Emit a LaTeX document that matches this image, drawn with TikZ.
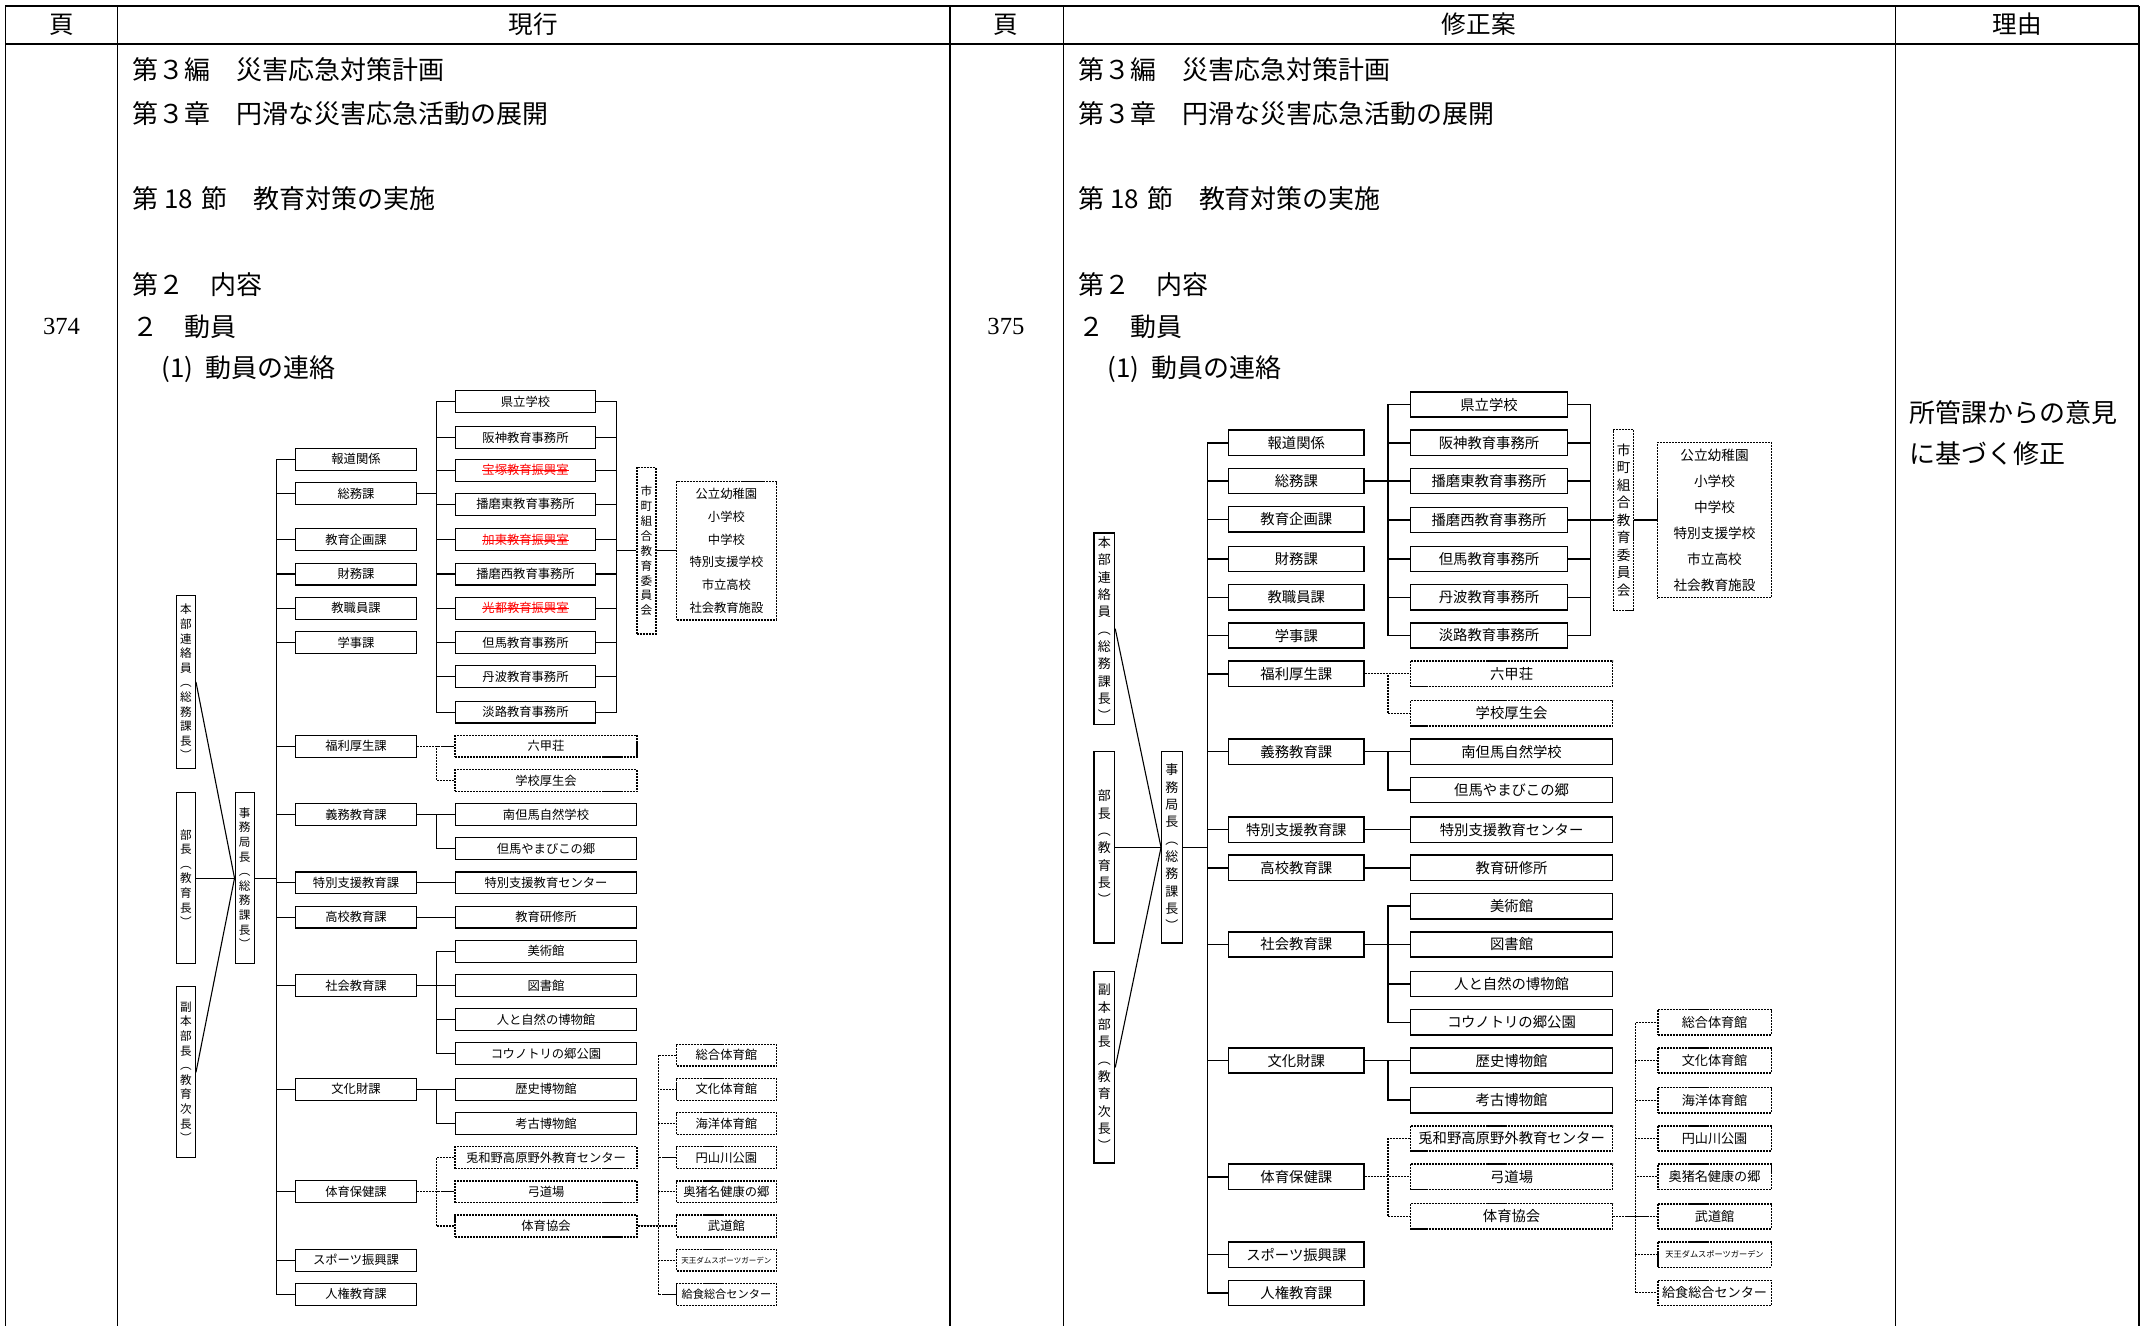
\documentclass[tikz,border=0pt]{standalone}
\usepackage{fontspec}
\setmainfont{Noto Sans CJK JP}
\newfontfamily\numfont{Liberation Serif}
\usepackage{tikz}
\usetikzlibrary{positioning}

\newcommand{\redout}[1]{{\color{red}\sbox0{#1}\rlap{\rule[.32em]{\wd0}{.5pt}}\usebox0}}

\begin{document}
\begin{tikzpicture}[x=1pt,y=-1pt,
  every node/.style={inner sep=0pt},
  dashline/.style={dash pattern=on 1.5pt off .7pt},
  head/.style={anchor=west,font=\fontsize{19}{19}\selectfont},
  title/.style={font=\fontsize{18}{18}\selectfont},
  obox/.style={draw,line width=.8pt,minimum height=16pt,font=\fontsize{9}{9}\selectfont},
  odept/.style={obox,minimum width=89pt},
  otop/.style={obox,minimum width=103pt},
  osub/.style={obox,minimum width=133pt},
  oside/.style={obox,minimum width=73pt},
  overt/.style={draw,line width=.8pt,minimum width=14pt,align=center,font=\fontsize{8.5}{10.7}\selectfont},
  oline/.style={line width=.8pt},
  nbox/.style={draw,line width=1.1pt,minimum height=18.5pt,font=\fontsize{10.5}{10.5}\selectfont},
  ndept/.style={nbox,minimum width=99pt},
  ntop/.style={nbox,minimum width=115pt},
  nsub/.style={nbox,minimum width=148pt},
  nside/.style={nbox,minimum width=83pt,font=\fontsize{9.6}{9.6}\selectfont},
  nvert/.style={draw,line width=1pt,minimum width=15pt,align=center,font=\fontsize{9.5}{12.7}\selectfont},
  nline/.style={line width=1.1pt}]

\useasboundingbox (0,0) rectangle (1568,970);

% table
\draw[line width=1pt] (4,4.5) -- (1565,4.5);
\draw[line width=1.6pt] (4,32) -- (1565,32);
\foreach \x in {4,86,695,778,1387,1565}
  \draw[line width=1pt] (\x,4.5) -- (\x,970);

\node[title] (PageL)   at (45,18)   {頁};
\node[title] (Old)     at (390,18)  {現行};
\node[title] (PageR)   at (736,18)  {頁};
\node[title] (New)     at (1082,18) {修正案};
\node[title] (Reason)  at (1476,18) {理由};
\node[font=\numfont\fontsize{18}{18}\selectfont] (NumL) at (45,239)  {374};
\node[font=\numfont\fontsize{18}{18}\selectfont] (NumR) at (736,239) {375};

\foreach \p/\x in {O/97,N/789} {
  \node[head] (\p Hen)   at (\x,51)  {第３編　災害応急対策計画};
  \node[head] (\p Sho)   at (\x,83)  {第３章　円滑な災害応急活動の展開};
  \node[head] (\p Setsu) at (\x,145) {第\hspace{4pt}18\hspace{6pt}節　教育対策の実施};
  \node[head] (\p Dai)   at (\x,208) {第２　内容};
  \node[head] (\p Doin)  at (\x,239) {２　動員};
  \node[head] (\p Renr)  at (\x+21,270) {(1)\hspace{9pt}動員の連絡};
}
\node[head] (ReasonA) at (1397,302) {所管課からの意見};
\node[head] (ReasonB) at (1397,332) {に基づく修正};

% ---------------- 現行 ----------------
\node[overt,minimum height=126pt] (OHonbu) at (136,499)   {本\\部\\連\\絡\\員\\︵\\総\\務\\課\\長\\︶};
\node[overt,minimum height=125pt] (OBucho) at (136,642.5) {部\\長\\︵\\教\\育\\長\\︶};
\node[overt,minimum height=125pt] (OFuku)  at (136,784.5) {副\\本\\部\\長\\︵\\教\\育\\次\\長\\︶};
\node[overt,minimum height=125pt] (OJimu)  at (179,642.5) {事\\務\\局\\長\\︵\\総\\務\\課\\長\\︶};
\draw[oline] (OHonbu.east) -- (OJimu.west);
\draw[oline] (OBucho.east) -- (OJimu.west);
\draw[oline] (OFuku.east)  -- (OJimu.west);

\foreach \n/\y/\t in {Hodo/336/報道関係, Soumu/361/総務課, Kikaku/395/教育企画課, Zaimu/420/財務課,
    Kyoshoku/445/教職員課, Gakuji/470/学事課, Fukuri/546/福利厚生課, Gimu/596/義務教育課,
    Tokushi/646/特別支援教育課, Koko/671/高校教育課, Shakai/721/社会教育課, Bunka/797/文化財課,
    Taiiku/872/体育保健課, Sports/922/スポーツ振興課, Jinken/947/人権教育課} {
  \node[odept] (O\n) at (260.5,\y) {\t};
  \draw[oline] (OJimu.east) -- ++(16,0) |- (O\n.west);
}

\node[overt,dashline,line width=1pt,minimum height=122pt,font=\fontsize{8.5}{10.9}\selectfont] (OShicho) at (473,403) {市\\町\\組\\合\\教\\育\\委\\員\\会};
\node[draw,dashline,line width=1pt,minimum width=73pt,minimum height=101pt,align=center,
      font=\fontsize{9}{16.7}\selectfont] (OSchools) at (531.5,403)
      {公立幼稚園\\小学校\\中学校\\特別支援学校\\市立高校\\社会教育施設};
\draw[oline] (OShicho.east) -- (OSchools.west);

\foreach \n/\y/\t in {Kenritsu/294/県立学校, Hanshin/320/阪神教育事務所, Takara/344/{\redout{宝塚教育振興室}},
    HarimaE/369/播磨東教育事務所, Kato/395/{\redout{加東教育振興室}}, HarimaW/420/播磨西教育事務所,
    Koto/445/{\redout{光都教育振興室}}, Tajima/470/但馬教育事務所, Tamba/495/丹波教育事務所,
    Awaji/521/淡路教育事務所} {
  \node[otop] (O\n) at (384.5,\y) {\t};
  \draw[oline] (OSoumu.east) -- ++(14,0) |- (O\n.west);
  \draw[oline] (O\n.east) -- ++(15,0) |- (OShicho.west);
}

\foreach \n/\y/\t in {MinamiTajima/596/南但馬自然学校, Yamabiko/621/但馬やまびこの郷,
    Center/646/特別支援教育センター, Kenshu/671/教育研修所, Bijutsu/696/美術館, Tosho/721/図書館,
    Hito/746/人と自然の博物館, Kounotori/771/コウノトリの郷公園, Rekishi/797/歴史博物館, Kouko/822/考古博物館}
  \node[osub] (O\n) at (399.5,\y) {\t};
\foreach \n/\y/\t in {Rokko/546/六甲荘, Kosei/571/学校厚生会, Towano/847/兎和野高原野外教育センター,
    Kyudo/872/弓道場, Taikyo/897/体育協会}
  \node[osub,dashline,line width=1pt] (O\n) at (399.5,\y) {\t};

\foreach \a/\b in {Gimu/MinamiTajima, Gimu/Yamabiko, Tokushi/Center, Koko/Kenshu, Shakai/Bijutsu,
    Shakai/Tosho, Shakai/Hito, Shakai/Kounotori, Bunka/Rekishi, Bunka/Kouko}
  \draw[oline] (O\a.east) -- ++(14,0) |- (O\b.west);
\foreach \a/\b in {Fukuri/Rokko, Fukuri/Kosei, Taiiku/Towano, Taiiku/Kyudo, Taiiku/Taikyo}
  \draw[oline,dashline] (O\a.east) -- ++(14,0) |- (O\b.west);

\foreach \n/\y/\t in {Sogo/772/総合体育館, BunkaT/797/文化体育館, Kaiyo/822/海洋体育館, Maruyama/847/円山川公園,
    Okuina/872/奥猪名健康の郷, Budo/897/武道館, Kyushoku/947/{\fontsize{8.2}{8.2}\selectfont 給食総合センター}} {
  \node[oside,dashline,line width=1pt] (O\n) at (531.5,\y) {\t};
  \draw[oline,dashline] (OTaikyo.east) -- ++(15,0) |- (O\n.west);
}
\node[oside,dashline,line width=1pt,font=\fontsize{5.5}{5.5}\selectfont] (OTenno) at (531.5,922) {天王ダムスポーツガーデン};
\draw[oline,dashline] (OTaikyo.east) -- ++(15,0) |- (OTenno.west);

% ---------------- 修正案 ----------------
\node[nvert,minimum height=140pt] (NHonbu) at (808,460) {本\\部\\連\\絡\\員\\︵\\総\\務\\課\\長\\︶};
\node[nvert,minimum height=140pt] (NBucho) at (808,620) {部\\長\\︵\\教\\育\\長\\︶};
\node[nvert,minimum height=140pt] (NFuku)  at (808,781) {副\\本\\部\\長\\︵\\教\\育\\次\\長\\︶};
\node[nvert,minimum height=140pt] (NJimu)  at (857.5,620) {事\\務\\局\\長\\︵\\総\\務\\課\\長\\︶};
\draw[line width=.8pt] (NHonbu.east) -- (NJimu.west);
\draw[nline] (NBucho.east) -- (NJimu.west);
\draw[line width=.8pt] (NFuku.east)  -- (NJimu.west);

\foreach \n/\y/\t in {Hodo/324/報道関係, Soumu/352/総務課, Kikaku/380/教育企画課, Zaimu/409/財務課,
    Kyoshoku/437/教職員課, Gakuji/465/学事課, Fukuri/493/福利厚生課, Gimu/550/義務教育課,
    Tokushi/607/特別支援教育課, Koko/635/高校教育課, Shakai/691/社会教育課, Bunka/776/文化財課,
    Taiiku/861/体育保健課, Sports/918/スポーツ振興課, Jinken/946/人権教育課} {
  \node[ndept] (N\n) at (948.5,\y) {\t};
  \draw[nline] (NJimu.east) -- ++(18,0) |- (N\n.west);
}

\node[nvert,dashline,line width=.8pt,minimum height=132pt,font=\fontsize{10}{12.8}\selectfont] (NShicho) at (1188,380.5) {市\\町\\組\\合\\教\\育\\委\\員\\会};
\node[draw,dashline,line width=.8pt,minimum width=83pt,minimum height=114pt,align=center,
      font=\fontsize{10}{19}\selectfont] (NSchools) at (1254.5,380.5)
      {公立幼稚園\\小学校\\中学校\\特別支援学校\\市立高校\\社会教育施設};
\draw[nline] (NShicho.east) -- (NSchools.west);

\foreach \n/\y/\t in {Kenritsu/296/県立学校, Hanshin/324/阪神教育事務所, HarimaE/352/播磨東教育事務所,
    HarimaW/380.5/播磨西教育事務所, Tajima/409/但馬教育事務所, Tamba/437/丹波教育事務所,
    Awaji/465/淡路教育事務所} {
  \node[ntop] (N\n) at (1089.5,\y) {\t};
  \draw[nline] (NSoumu.east) -- ++(17,0) |- (N\n.west);
  \draw[nline] (N\n.east) -- ++(16,0) |- (NShicho.west);
}

\foreach \n/\y/\t in {MinamiTajima/550/南但馬自然学校, Yamabiko/578/但馬やまびこの郷,
    Center/607/特別支援教育センター, Kenshu/635/教育研修所, Bijutsu/663/美術館, Tosho/691/図書館,
    Hito/720/人と自然の博物館, Kounotori/748/コウノトリの郷公園, Rekishi/776/歴史博物館, Kouko/805/考古博物館}
  \node[nsub] (N\n) at (1106,\y) {\t};
\foreach \n/\y/\t in {Rokko/493/六甲荘, Kosei/522/学校厚生会, Towano/833/兎和野高原野外教育センター,
    Kyudo/861/弓道場, Taikyo/890/体育協会}
  \node[nsub,dashline,line width=1pt] (N\n) at (1106,\y) {\t};

\foreach \a/\b in {Gimu/MinamiTajima, Gimu/Yamabiko, Tokushi/Center, Koko/Kenshu, Shakai/Bijutsu,
    Shakai/Tosho, Shakai/Hito, Shakai/Kounotori, Bunka/Rekishi, Bunka/Kouko}
  \draw[nline] (N\a.east) -- ++(17,0) |- (N\b.west);
\foreach \a/\b in {Fukuri/Rokko, Fukuri/Kosei, Taiiku/Towano, Taiiku/Kyudo, Taiiku/Taikyo}
  \draw[oline,dashline] (N\a.east) -- ++(17,0) |- (N\b.west);

\foreach \n/\y/\t in {Sogo/748/総合体育館, BunkaT/776/文化体育館, Kaiyo/805/海洋体育館, Maruyama/833/円山川公園,
    Okuina/861/奥猪名健康の郷, Budo/890/武道館, Kyushoku/946/給食総合センター} {
  \node[nside,dashline,line width=1.1pt] (N\n) at (1254.5,\y) {\t};
  \draw[oline,dashline] (NTaikyo.east) -- ++(16,0) |- (N\n.west);
}
\node[nside,dashline,line width=1.1pt,font=\fontsize{6}{6}\selectfont] (NTenno) at (1254.5,918) {天王ダムスポーツガーデン};
\draw[oline,dashline] (NTaikyo.east) -- ++(16,0) |- (NTenno.west);
\end{tikzpicture}
\end{document}
